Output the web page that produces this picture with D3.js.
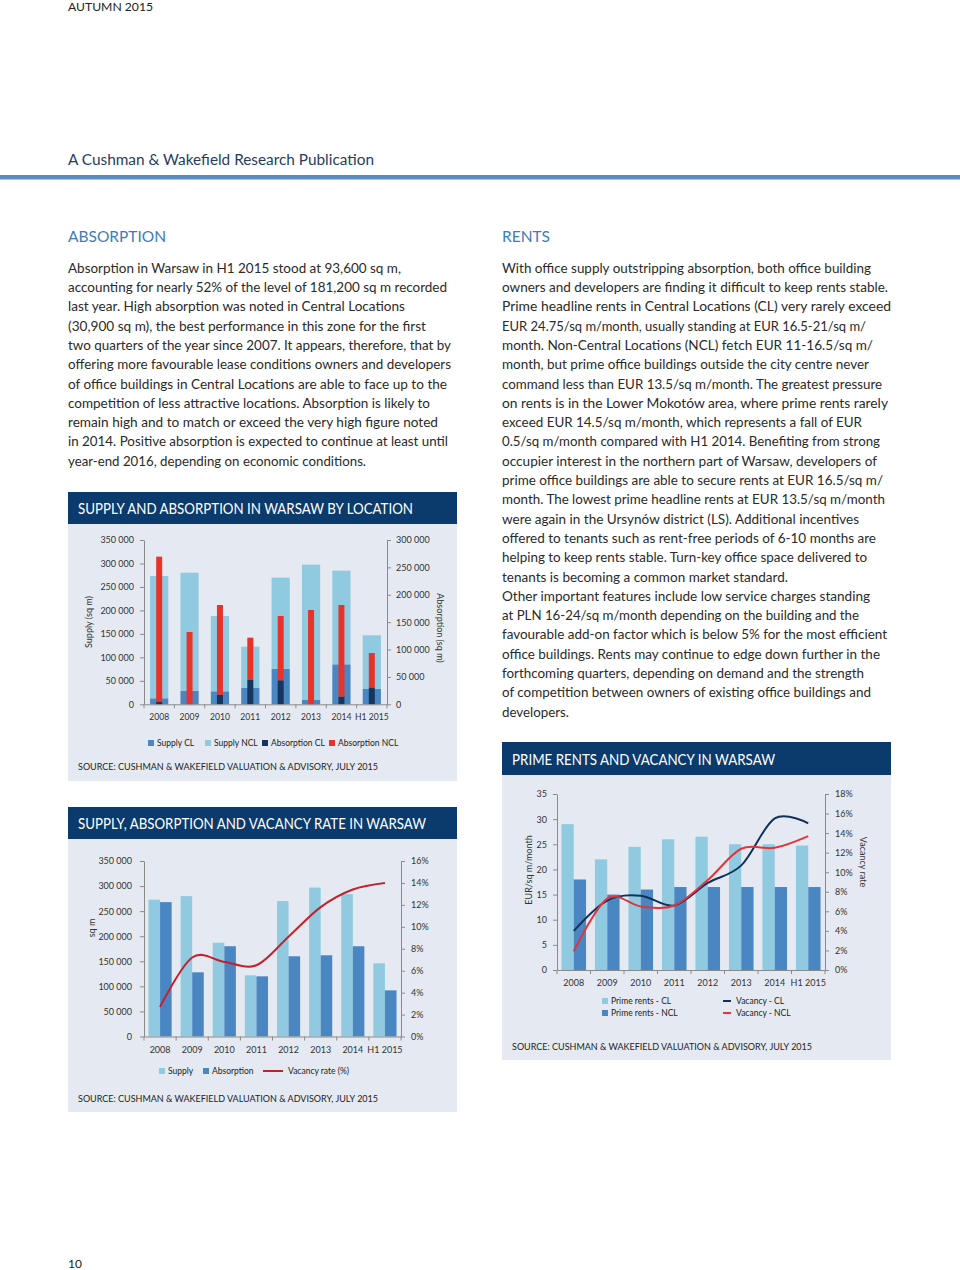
<!DOCTYPE html>
<html><head><meta charset="utf-8">
<script src="https://cdn.jsdelivr.net/npm/d3@7"></script>
<style>
body{margin:0;background:#fff;}
svg{display:block;font-family:Lato,"Open Sans",sans-serif;}
</style></head><body>
<svg id="page" width="960" height="1270"></svg>
<script>
// ---------------- DATA ----------------
const years = ["2008","2009","2010","2011","2012","2013","2014","H1 2015"];

// Chart 1: Supply and absorption in Warsaw by location (sq m)
const supplyCL      = [12800, 29100, 27700, 35500, 75300, 9900, 85200, 32700];
const supplyNCL     = [260500, 251300, 160400, 87300, 194500, 287600, 199500, 114300];
const absorptionCL  = [4900, 0, 17000, 44400, 43800, 0, 14000, 30900];
const absorptionNCL = [264700, 132000, 164300, 77300, 117500, 172200, 167300, 62700];
const c1LeftTicks  = [0, 50000, 100000, 150000, 200000, 250000, 300000, 350000];
const c1RightTicks = [0, 50000, 100000, 150000, 200000, 250000, 300000];

// Chart 2: Supply, absorption and vacancy rate in Warsaw
const supplyTotal     = [273000, 280000, 187000, 122000, 270000, 297000, 284000, 146000];
const absorptionTotal = [268000, 128000, 180000, 120000, 160000, 162000, 180000, 92000];
const vacancyRate     = [2.7, 7.2, 6.8, 6.5, 9.1, 11.8, 13.4, 14.0];
const c2LeftTicks  = [0, 50000, 100000, 150000, 200000, 250000, 300000, 350000];
const c2RightTicks = [0, 2, 4, 6, 8, 10, 12, 14, 16];

// Chart 3: Prime rents and vacancy in Warsaw
const rentsCL    = [29, 22, 24.5, 26, 26.5, 25, 25, 24.75];
const rentsNCL   = [18, 15, 16, 16.5, 16.5, 16.5, 16.5, 16.5];
const vacancyCL  = [4.0, 7.1, 7.6, 6.6, 8.9, 10.7, 15.5, 15.0];
const vacancyNCL = [1.9, 7.3, 6.5, 6.6, 9.2, 12.4, 12.5, 13.7];
const c3LeftTicks  = [0, 5, 10, 15, 20, 25, 30, 35];
const c3RightTicks = [0, 2, 4, 6, 8, 10, 12, 14, 16, 18];

// Text
const leftLines = [
 "Absorption in Warsaw in H1 2015 stood at 93,600 sq m,",
 "accounting for nearly 52% of the level of 181,200 sq m recorded",
 "last year. High absorption was noted in Central Locations",
 "(30,900 sq m), the best performance in this zone for the first",
 "two quarters of the year since 2007. It appears, therefore, that by",
 "offering more favourable lease conditions owners and developers",
 "of office buildings in Central Locations are able to face up to the",
 "competition of less attractive locations. Absorption is likely to",
 "remain high and to match or exceed the very high figure noted",
 "in 2014. Positive absorption is expected to continue at least until",
 "year-end 2016, depending on economic conditions."
];
const leftEnds = [401,447,405,426,451,451,447,430,438,448,366];
const rightLines = [
 "With office supply outstripping absorption, both office building",
 "owners and developers are finding it difficult to keep rents stable.",
 "Prime headline rents in Central Locations (CL) very rarely exceed",
 "EUR 24.75/sq m/month, usually standing at EUR 16.5-21/sq m/",
 "month. Non-Central Locations (NCL) fetch EUR 11-16.5/sq m/",
 "month, but prime office buildings outside the city centre never",
 "command less than EUR 13.5/sq m/month. The greatest pressure",
 "on rents is in the Lower Mokotów area, where prime rents rarely",
 "exceed EUR 14.5/sq m/month, which represents a fall of EUR",
 "0.5/sq m/month compared with H1 2014. Benefiting from strong",
 "occupier interest in the northern part of Warsaw, developers of",
 "prime office buildings are able to secure rents at EUR 16.5/sq m/",
 "month. The lowest prime headline rents at EUR 13.5/sq m/month",
 "were again in the Ursynów district (LS). Additional incentives",
 "offered to tenants such as rent-free periods of 6-10 months are",
 "helping to keep rents stable. Turn-key office space delivered to",
 "tenants is becoming a common market standard.",
 "Other important features include low service charges standing",
 "at PLN 16-24/sq m/month depending on the building and the",
 "favourable add-on factor which is below 5% for the most efficient",
 "office buildings. Rents may continue to edge down further in the",
 "forthcoming quarters, depending on demand and the strength",
 "of competition between owners of existing office buildings and",
 "developers."
];
const rightEnds = [871,888,891,866,873,869,882,888,862,880,877,883,885,859,876,867,788,870,859,887,880,864,871,569];

// ---------------- STYLE ----------------
const C = {
  panel:"#e5eaf2", bar:"#0b3a6d", light:"#8fcae0", mid:"#4a87c2", navy:"#15365e",
  red:"#e8332a", red2:"#c4202e", red3:"#e2343a", axis:"#8a8a8a", text:"#2a2a2a",
  head:"#3e7cb8", pub:"#1f3d63", rule:"#5b8cbf"
};
const svg = d3.select("#page");
svg.append("rect").attr("width",960).attr("height",1270).attr("fill","#fff");
const fmt = d3.formatLocale({decimal:".", thousands:" ", grouping:[3], currency:["",""]}).format(",.0f");
const pct = d => d + "%";

function txt(x,y,s,o={}){
  const t = svg.append("text").attr("x",x).attr("y",y).attr("dy","0.35em")
    .attr("font-size",o.size||13.5).attr("fill",o.fill||C.text).text(s);
  if(o.end) t.attr("textLength",o.end-x).attr("lengthAdjust","spacingAndGlyphs");
  if(o.anchor) t.attr("text-anchor",o.anchor);
  if(o.rot!==undefined) t.attr("transform",`rotate(${o.rot},${x},${y})`);
  return t;
}

// Header
txt(68,7,"AUTUMN 2015",{size:11.5,end:153,fill:"#222"});
txt(68,160,"A Cushman & Wakefield Research Publication",{size:15.5,end:374,fill:C.pub});
svg.append("rect").attr("x",0).attr("y",175).attr("width",960).attr("height",4.5).attr("fill",C.rule);
txt(68,236,"ABSORPTION",{size:16,end:166,fill:C.head});
txt(502,236,"RENTS",{size:16,end:550,fill:C.head});
leftLines.forEach((s,i)=>txt(68,268+i*19.3,s,{end:leftEnds[i]}));
rightLines.forEach((s,i)=>txt(502,268+i*19.3,s,{end:rightEnds[i]}));
txt(68,1264,"10",{size:12,fill:"#222"});

function panel(x,y,w,h,barH,title,titleEnd){
  svg.append("rect").attr("x",x).attr("y",y).attr("width",w).attr("height",h).attr("fill",C.panel);
  svg.append("rect").attr("x",x).attr("y",y).attr("width",w).attr("height",barH).attr("fill",C.bar);
  txt(x+10,y+barH/2+1,title,{size:14.5,fill:"#fff",end:titleEnd});
}

function axes(o){
  const g = svg.append("g");
  g.append("g").attr("transform",`translate(${o.x.range()[0]},0)`)
    .call(d3.axisLeft(o.yL).tickValues(o.lt).tickFormat(o.fl).tickSize(4).tickSizeOuter(0).tickPadding(o.pl));
  g.append("g").attr("transform",`translate(${o.x.range()[1]},0)`)
    .call(d3.axisRight(o.yR).tickValues(o.rt).tickFormat(o.fr).tickSize(4).tickSizeOuter(0).tickPadding(o.pr));
  const yb = o.yL.range()[0];
  const xa = g.append("g").attr("transform",`translate(0,${yb})`)
    .call(d3.axisBottom(o.x).tickSize(0).tickSizeOuter(0).tickPadding(10));
  d3.range(o.x.domain().length+1).forEach(i=>{
    const xx = o.x.range()[0] + i*o.x.step();
    g.append("line").attr("x1",xx).attr("x2",xx).attr("y1",yb).attr("y2",yb+4).attr("stroke",C.axis);
  });
  g.selectAll(".domain,.tick line").attr("stroke",C.axis);
  g.selectAll("text").attr("font-size",9).attr("fill","#333").attr("font-family","Lato, sans-serif");
  xa.selectAll("text").attr("font-size",o.xs||9);
  return g;
}
function legSq(x,y,col,label){
  svg.append("rect").attr("x",x).attr("y",y-3).attr("width",6).attr("height",6).attr("fill",col);
  txt(x+9,y,label,{size:8.5,fill:"#222"});
}
function legLine(x,y,len,col,label){
  svg.append("line").attr("x1",x).attr("x2",x+len).attr("y1",y).attr("y2",y).attr("stroke",col).attr("stroke-width",2);
  txt(x+len+5,y,label,{size:8.5,fill:"#222"});
}
const SRC = "SOURCE: CUSHMAN & WAKEFIELD VALUATION & ADVISORY, JULY 2015";

// ---------------- CHART 1 ----------------
panel(68,492,389,289,32,"SUPPLY AND ABSORPTION IN WARSAW BY LOCATION",413);
{
  const x = d3.scaleBand().domain(years).range([144,387]).padding(0);
  const yL = d3.scaleLinear().domain([0,350000]).range([704.3,540]);
  const yR = d3.scaleLinear().domain([0,300000]).range([704.3,540]);
  const bw = x.step()*0.6, aw = 6;
  years.forEach((yr,i)=>{
    const cx = x(yr)+x.bandwidth()/2;
    const tot = supplyCL[i]+supplyNCL[i];
    svg.append("rect").attr("x",cx-bw/2).attr("width",bw).attr("y",yL(supplyCL[i])).attr("height",yL(0)-yL(supplyCL[i])).attr("fill",C.mid);
    svg.append("rect").attr("x",cx-bw/2).attr("width",bw).attr("y",yL(tot)).attr("height",yL(supplyCL[i])-yL(tot)).attr("fill",C.light);
    const at = absorptionCL[i]+absorptionNCL[i];
    svg.append("rect").attr("x",cx-aw/2).attr("width",aw).attr("y",yR(absorptionCL[i])).attr("height",yR(0)-yR(absorptionCL[i])).attr("fill",C.navy);
    svg.append("rect").attr("x",cx-aw/2).attr("width",aw).attr("y",yR(at)).attr("height",yR(absorptionCL[i])-yR(at)).attr("fill",C.red);
  });
  axes({x,yL,yR,lt:c1LeftTicks,rt:c1RightTicks,fl:fmt,fr:fmt,pl:6,pr:5,xs:8.6});
  txt(89,622,"Supply (sq m)",{size:9,anchor:"middle",rot:-90,fill:"#333"});
  txt(440,628,"Absorption (sq m)",{size:9,anchor:"middle",rot:90,fill:"#333"});
  legSq(148,743,C.mid,"Supply CL");
  legSq(205,743,C.light,"Supply NCL");
  legSq(262,743,C.navy,"Absorption CL");
  legSq(329,743,C.red,"Absorption NCL");
  txt(78,767,SRC,{size:9.5,end:378,fill:"#222"});
}

// ---------------- CHART 2 ----------------
panel(68,807,389,305,32,"SUPPLY, ABSORPTION AND VACANCY RATE IN WARSAW",426);
{
  const x = d3.scaleBand().domain(years).range([144,401]).padding(0);
  const yL = d3.scaleLinear().domain([0,350000]).range([1036.5,861]);
  const yR = d3.scaleLinear().domain([0,16]).range([1036.5,861]);
  const bw = x.step()*0.36;
  years.forEach((yr,i)=>{
    const cx = x(yr)+x.bandwidth()/2;
    svg.append("rect").attr("x",cx-bw).attr("width",bw).attr("y",yL(supplyTotal[i])).attr("height",yL(0)-yL(supplyTotal[i])).attr("fill",C.light);
    svg.append("rect").attr("x",cx).attr("width",bw).attr("y",yL(absorptionTotal[i])).attr("height",yL(0)-yL(absorptionTotal[i])).attr("fill",C.mid);
  });
  axes({x,yL,yR,lt:c2LeftTicks,rt:c2RightTicks,fl:fmt,fr:pct,pl:8,pr:6});
  const line = d3.line().x((d,i)=>x(years[i])+x.bandwidth()/2).y(d=>yR(d)).curve(d3.curveCardinal.tension(0));
  svg.append("path").datum(vacancyRate).attr("d",line).attr("fill","none").attr("stroke",C.red2).attr("stroke-width",2);
  txt(92,928,"sq m",{size:9,anchor:"middle",rot:-90,fill:"#333"});
  legSq(159,1071,C.light,"Supply");
  legSq(203,1071,C.mid,"Absorption");
  legLine(263,1071,20,C.red2,"Vacancy rate (%)");
  txt(78,1099,SRC,{size:9.5,end:378,fill:"#222"});
}

// ---------------- CHART 3 ----------------
panel(502,742,389,318,33,"PRIME RENTS AND VACANCY IN WARSAW",775);
{
  const x = d3.scaleBand().domain(years).range([557,825]).padding(0);
  const yL = d3.scaleLinear().domain([0,35]).range([970,794]);
  const yR = d3.scaleLinear().domain([0,18]).range([970,794]);
  const bw = x.step()*0.367;
  years.forEach((yr,i)=>{
    const cx = x(yr)+x.bandwidth()/2;
    svg.append("rect").attr("x",cx-bw).attr("width",bw).attr("y",yL(rentsCL[i])).attr("height",yL(0)-yL(rentsCL[i])).attr("fill",C.light);
    svg.append("rect").attr("x",cx).attr("width",bw).attr("y",yL(rentsNCL[i])).attr("height",yL(0)-yL(rentsNCL[i])).attr("fill",C.mid);
  });
  axes({x,yL,yR,lt:c3LeftTicks,rt:c3RightTicks,fl:d=>d,fr:pct,pl:6,pr:6});
  const line = d3.line().x((d,i)=>x(years[i])+x.bandwidth()/2).y(d=>yR(d)).curve(d3.curveCardinal.tension(0));
  svg.append("path").datum(vacancyCL).attr("d",line).attr("fill","none").attr("stroke","#11305a").attr("stroke-width",2);
  svg.append("path").datum(vacancyNCL).attr("d",line).attr("fill","none").attr("stroke",C.red3).attr("stroke-width",2);
  txt(529,870,"EUR/sq m/month",{size:9,anchor:"middle",rot:-90,fill:"#333"});
  txt(863,862,"Vacancy rate",{size:9,anchor:"middle",rot:90,fill:"#333"});
  legSq(602,1001,C.light,"Prime rents - CL");
  legSq(602,1013,C.mid,"Prime rents - NCL");
  legLine(723,1001,8,"#11305a","Vacancy - CL");
  legLine(723,1013,8,C.red3,"Vacancy - NCL");
  txt(512,1047,SRC,{size:9.5,end:812,fill:"#222"});
}
</script>
</body></html>
